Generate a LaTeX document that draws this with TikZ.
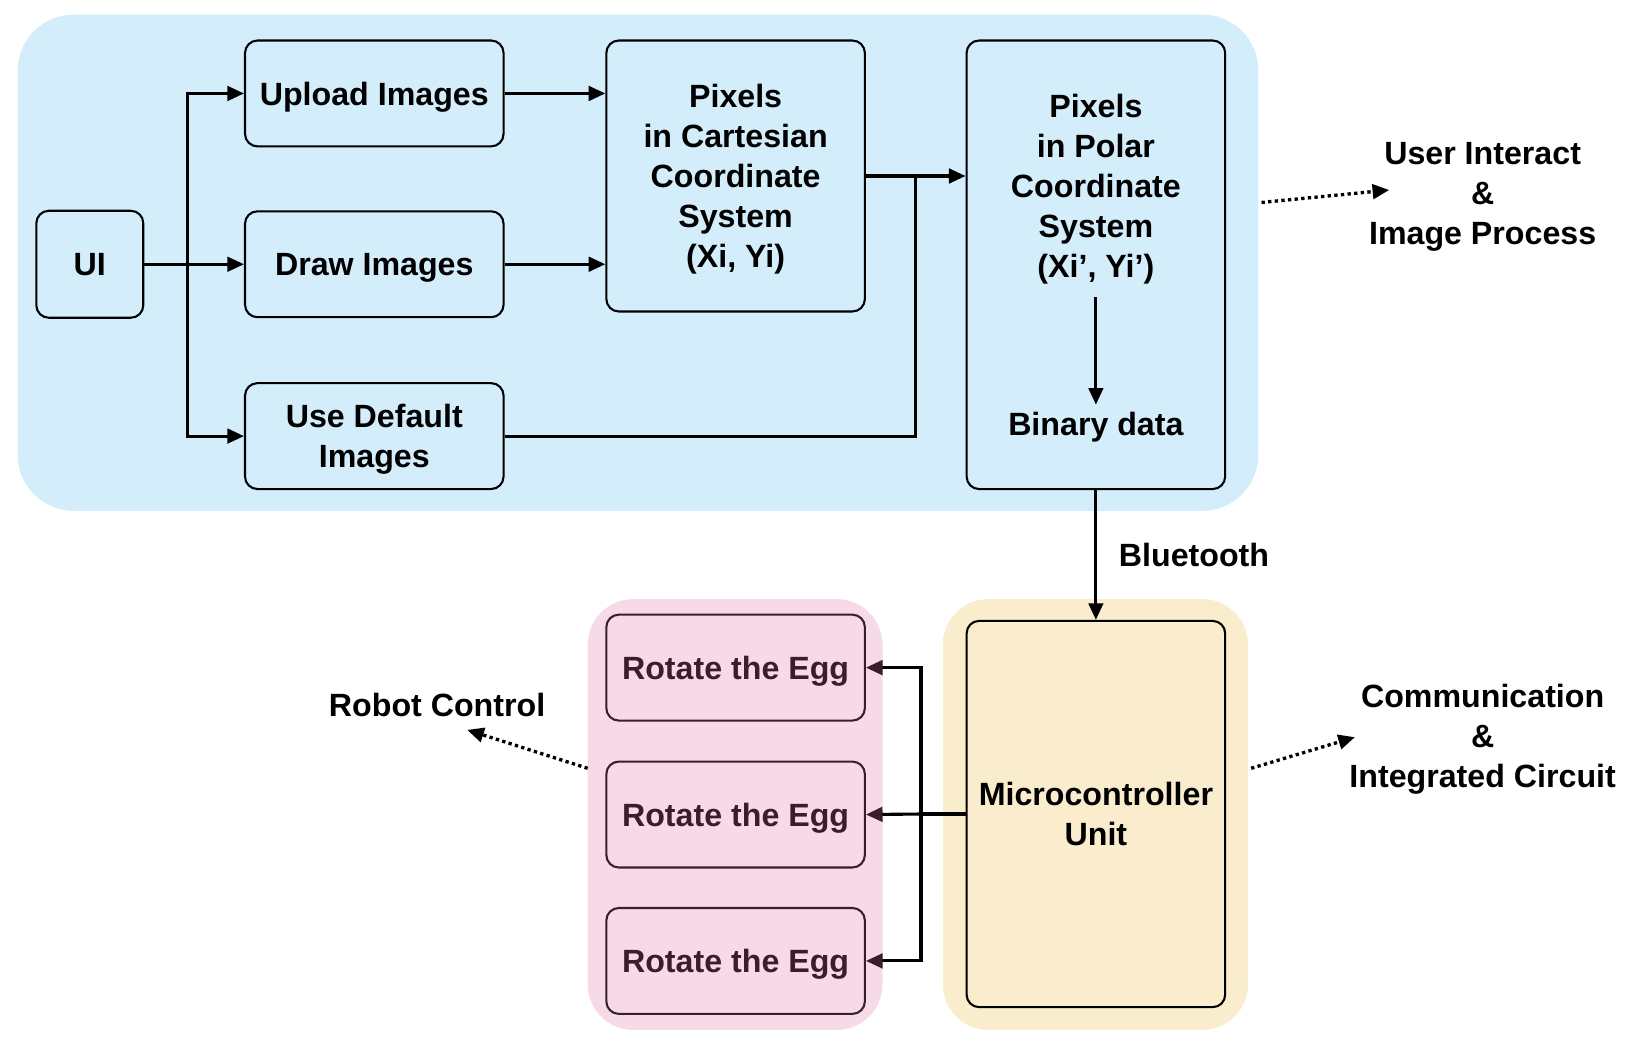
\documentclass[tikz,border=0pt]{standalone}
\usepackage{fontspec}
\setmainfont{Liberation Sans}
\usepackage{tikz}
\usetikzlibrary{arrows.meta,positioning,calc}
\definecolor{skyfill}{RGB}{212,237,251}
\definecolor{sandfill}{RGB}{250,237,206}
\definecolor{rosefill}{RGB}{247,218,232}
\definecolor{eggdark}{RGB}{58,30,44}
\tikzstyle{box}=[draw, line width=1pt, rounded corners=6pt, align=center, minimum width=124.5pt, minimum height=51pt, inner sep=2pt]
\tikzstyle{region}=[draw=none, inner sep=0pt]
\begin{document}
\begin{tikzpicture}[x=0.5pt,y=-0.5pt,font=\fontsize{15.5}{19.25}\selectfont\bfseries,
every node/.style={text depth=0pt},
arr/.style={line width=1.5pt,-{Triangle[length=8pt,width=7pt]}},
link/.style={line width=1.5pt},
dots/.style={line width=1.6pt,dash pattern=on 1.6pt off 1.6pt,-{Triangle[length=8pt,width=7pt]}}]
\useasboundingbox (0,0) rectangle (1568,1009);
% background regions
\node (sky) at (614.5,253)[region, fill=skyfill, rounded corners=27pt, minimum width=597.5pt, minimum height=239pt] {};
\node (rose) at (708,784.5)[region, fill=rosefill, rounded corners=22pt, minimum width=142pt, minimum height=207.5pt] {};
\node (sand) at (1055,784.5)[region, fill=sandfill, rounded corners=22pt, minimum width=147pt, minimum height=207.5pt] {};
% image side
\node (ui) at (86.5,254.5)[box, minimum width=51.5pt, minimum height=51.5pt] {UI};
\node (upload) at (360.5,90)[box] {Upload Images};
\node (drawimg) at (360.5,254.5)[box] {Draw Images};
\node (default) at (360.5,420)[box] {Use Default\\Images};
\node (cart) at (708.5,169.5)[box, minimum height=130.5pt] {Pixels\\in Cartesian\\Coordinate\\System\\(Xi, Yi)};
\node (polar) at (1055.5,255)[box, minimum height=216pt] {};
\node (polartxt) at (1055.5,179) [align=center] {Pixels\\in Polar\\Coordinate\\System\\(Xi’, Yi’)};
\node (bin) at (1055.5,408) {Binary data};
% robot side
\node (mcu) at (1055.5,784)[box, minimum height=186pt] {Microcontroller\\Unit};
\node (egg1) at (708.5,643)[box, draw=eggdark, text=eggdark] {Rotate the Egg};
\node (egg2) at (708.5,784.5)[box, draw=eggdark, text=eggdark] {Rotate the Egg};
\node (egg3) at (708.5,925.5)[box, draw=eggdark, text=eggdark] {Rotate the Egg};
% labels
\node (uitxt) at (1428,186)[align=center] {User Interact\\\&\\Image Process};
\node (commtxt) at (1428,709)[align=center] {Communication\\\&\\Integrated Circuit};
\node (robot) at (421,679) {Robot Control};
\coordinate (split) at (181,254.5);
\coordinate (join) at (882,169.5);
\coordinate (fork) at (887,784);
\coordinate (d1a) at (1215,195);
\coordinate (d1b) at (1338,183);
\coordinate (d2a) at (566,740);
\coordinate (d2b) at (450,703);
\coordinate (d3a) at (1205,740);
\coordinate (d3b) at (1305,710);
% connectors
\draw[link] (ui.east) -- (split);
\draw[arr] (split) |- (upload.west);
\draw[arr] (split) -- (drawimg.west);
\draw[arr] (split) |- (default.west);
\draw[arr] (upload.east) -- (upload.east -| cart.west);
\draw[arr] (drawimg.east) -- (drawimg.east -| cart.west);
\draw[link] (default.east) -| (join);
\draw[arr] (cart.east) -- (cart.east -| polar.west);
\draw[arr] ([yshift=-6pt]polartxt.south) -- (bin.north);
\draw[arr] (polar.south) -- (mcu.north) node[midway, right=7pt] {Bluetooth};
\draw[link] (mcu.west) -- (fork);
\draw[line width=1.5pt,-{Triangle[length=8pt,width=7pt,color=eggdark]}] (fork) |- (egg1.east);
\draw[line width=1.5pt,-{Triangle[length=8pt,width=7pt,color=eggdark]}] (fork) -- (egg2.east);
\draw[line width=1.5pt,-{Triangle[length=8pt,width=7pt,color=eggdark]}] (fork) |- (egg3.east);
\draw[dots] (d1a) -- (d1b);
\draw[dots] (d2a) -- (d2b);
\draw[dots] (d3a) -- (d3b);
\end{tikzpicture}
\end{document}
